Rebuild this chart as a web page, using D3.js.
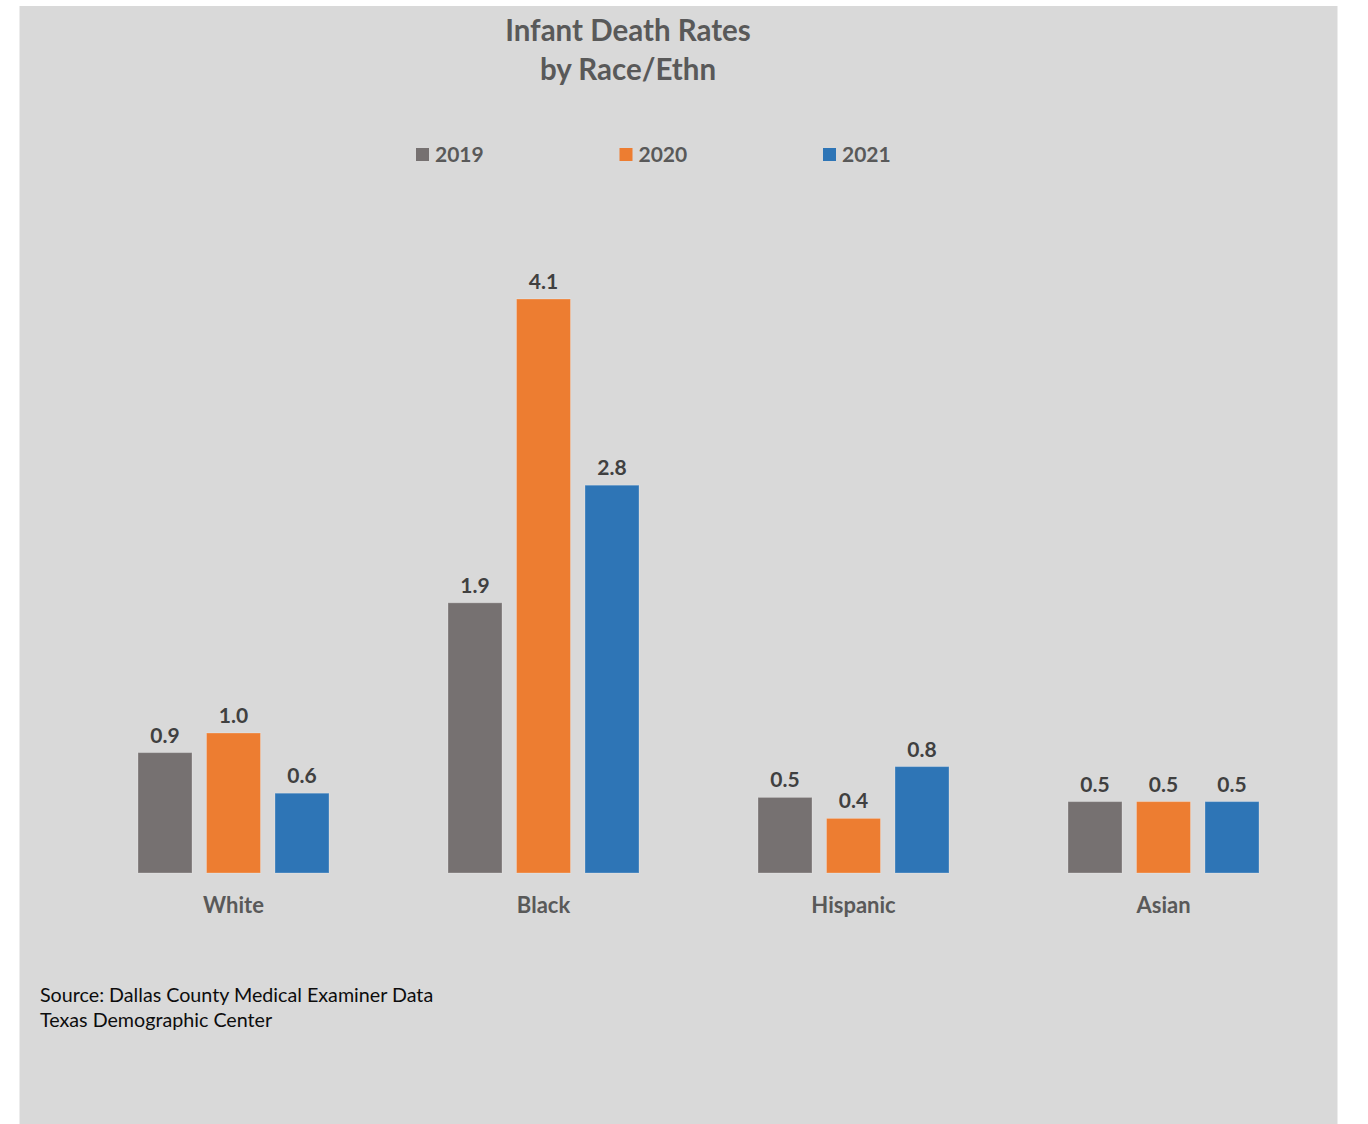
<!DOCTYPE html>
<html>
<head>
<meta charset="utf-8">
<script src="https://cdn.jsdelivr.net/npm/d3@7"></script>
<style>
  html, body { margin: 0; padding: 0; background: #ffffff; }
  svg { display: block; }
</style>
</head>
<body>
<script>
const categories = ["White", "Black", "Hispanic", "Asian"];
const years = ["2019", "2020", "2021"];
const values2019 = [0.86, 1.93, 0.54, 0.51];
const values2020 = [1.00, 4.10, 0.39, 0.51];
const values2021 = [0.57, 2.77, 0.76, 0.51];
const colors = ["#767171", "#ED7D31", "#2E75B6"];
const titleLines = ["Infant Death Rates", "by Race/Ethn"];
const sourceLines = ["Source: Dallas County Medical Examiner Data", "Texas Demographic Center"];

const series = [values2019, values2020, values2021];
const W = 1368, H = 1124;
const font = "Lato, 'Open Sans', sans-serif";

const svg = d3.select("body").append("svg").attr("width", W).attr("height", H);
svg.append("rect").attr("x", 19.5).attr("y", 6).attr("width", 1318).attr("height", 1118).attr("fill", "#d9d9d9");

// title
svg.append("g").selectAll("text").data(titleLines).join("text")
  .attr("x", 628).attr("y", (d, i) => 41 + i * 39)
  .attr("text-anchor", "middle")
  .attr("font-family", font).attr("font-weight", "bold").attr("font-size", 29.5)
  .attr("fill", "#595959").text(d => d);

// legend
const legendX = d3.scalePoint().domain(years).range([416, 823]);
const lg = svg.append("g").selectAll("g").data(years).join("g")
  .attr("transform", d => `translate(${legendX(d)},148)`);
lg.append("rect").attr("width", 13).attr("height", 13).attr("fill", (d, i) => colors[i]);
lg.append("text").attr("x", 19).attr("y", 14)
  .attr("font-family", font).attr("font-weight", "bold").attr("font-size", 21)
  .attr("fill", "#595959").text(d => d);

// scales
const x0 = d3.scaleBand().domain(categories).range([78.5, 1318.5]).padding(0);
const x1 = d3.scaleBand().domain(years).range([59.5, 250.5]).paddingInner(14.5 / 68.5).paddingOuter(0);
const y = d3.scaleLinear().domain([0, 4.1]).range([873, 299]);
const fmt = d3.format(".1f");

const groups = svg.append("g").selectAll("g").data(categories).join("g")
  .attr("transform", d => `translate(${x0(d)},0)`);

const barData = (c, ci) => years.map((yr, si) => ({ year: yr, value: series[si][ci], color: colors[si] }));

groups.selectAll("rect").data((c, ci) => barData(c, ci)).join("rect")
  .attr("x", d => x1(d.year)).attr("width", x1.bandwidth())
  .attr("y", d => y(d.value)).attr("height", d => y(0) - y(d.value))
  .attr("fill", d => d.color)
  .attr("stroke", "#ffffff").attr("stroke-opacity", 0.25).attr("stroke-width", 1);

groups.selectAll("text.val").data((c, ci) => barData(c, ci)).join("text")
  .attr("class", "val")
  .attr("x", d => x1(d.year) + x1.bandwidth() / 2)
  .attr("y", d => y(d.value) - 10)
  .attr("text-anchor", "middle")
  .attr("font-family", font).attr("font-weight", "bold").attr("font-size", 21)
  .attr("fill", "#404040").text(d => fmt(d.value));

// category axis labels
const xAxis = d3.axisBottom(x0).tickSize(0).tickPadding(0);
const ax = svg.append("g").attr("transform", "translate(0,873)").call(xAxis);
ax.select(".domain").remove();
ax.selectAll("text")
  .attr("y", 40).attr("dy", null)
  .attr("font-family", font).attr("font-weight", "bold").attr("font-size", 22)
  .attr("fill", "#595959");

// source
svg.append("g").selectAll("text").data(sourceLines).join("text")
  .attr("x", 40).attr("y", (d, i) => 1002 + i * 25)
  .attr("font-family", font).attr("font-size", 19.7)
  .attr("fill", "#0d0d0d").text(d => d);
</script>
</body>
</html>
